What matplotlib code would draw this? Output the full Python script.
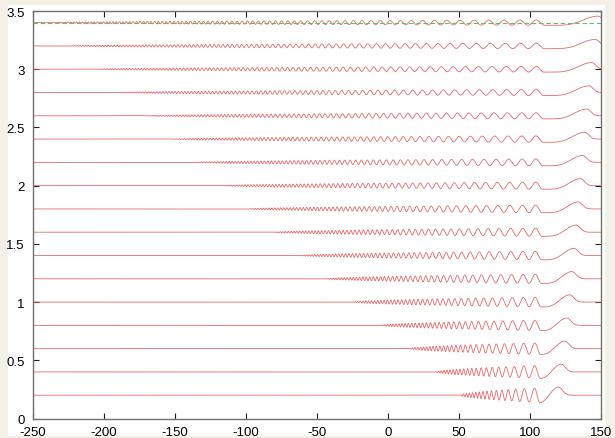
"""
Stacked wave-packet profiles (gnuplot look-alike)
"""

import numpy as np
import matplotlib.pyplot as plt
from matplotlib.patches import Rectangle
from matplotlib.ticker import FuncFormatter, MultipleLocator

# baseline of each profile
offsets = [0.2, 0.4, 0.6, 0.8, 1.0, 1.2, 1.4, 1.6, 1.8, 2.0,
           2.2, 2.4, 2.6, 2.8, 3.0, 3.2, 3.4]
# x where the ripples first become visible (left front)
ripple_start = [51, 34, 15, -5, -25, -44, -62, -80, -99, -117,
                -135, -153, -171, -190, -208, -228, -246]
# x of the trough after the last crest
trough_x = [107.0, 107.2, 107.4, 107.6, 107.8, 108.0, 108.2, 108.4, 108.6, 108.8,
            109.0, 109.2, 109.4, 109.6, 109.8, 110.0, 110.2]
# x and height of the bump on the right
bump_x = [120, 122, 124.5, 126, 128, 129.5, 131, 132.5, 134, 135.5,
          137, 138.5, 140, 141.5, 143.5, 146, 148]
bump_h = [0.070, 0.067, 0.064, 0.063, 0.062, 0.062, 0.061, 0.061, 0.060, 0.060,
          0.059, 0.058, 0.058, 0.057, 0.057, 0.056, 0.056]
# ripple amplitude next to the trough
osc_amp = [0.063, 0.055, 0.050, 0.045, 0.042, 0.040, 0.037, 0.035, 0.033, 0.031,
           0.030, 0.028, 0.027, 0.026, 0.025, 0.024, 0.023]
# wavenumber of the last (longest) ripple
last_wavenum = [0.80, 0.78, 0.77, 0.75, 0.74, 0.72, 0.70, 0.69, 0.67, 0.66,
                0.64, 0.62, 0.61, 0.59, 0.58, 0.56, 0.54]
# steepness of the rise from trough to bump
ramp_pow = [1.0, 1.2, 1.4, 1.6, 1.8, 2.0, 2.1, 2.2, 2.3, 2.4,
            2.5, 2.5, 2.6, 2.6, 2.7, 2.7, 2.8]

Q_MAX = 3.5   # wavenumber at the front
CHIRP = 1.8
BUMP_W = 4.0


def profile(x, x_s, x_t, x_b, h, a, q0, p):
    y = np.zeros_like(x)
    L = x_t - x_s
    u = np.clip((x_t - x) / L, 0, 1)
    phase = L * (q0 * u + (Q_MAX - q0) * u ** (CHIRP + 1) / (CHIRP + 1))
    osc = -a * (1 - u) ** 0.55 * np.cos(phase)
    left = x <= x_t
    y[left] = osc[left]
    mid = (x > x_t) & (x <= x_b)
    v = (x[mid] - x_t) / (x_b - x_t)
    y[mid] = -a + (a + h) * ((1 - np.cos(np.pi * v)) / 2) ** p
    right = x > x_b
    y[right] = h * np.exp(-((x[right] - x_b) / BUMP_W) ** 2)
    return y


plt.rcParams['font.family'] = ['Liberation Sans', 'DejaVu Sans']
plt.rcParams['font.size'] = 9.5

figure = plt.figure(figsize=(6.15, 4.39), dpi=100, facecolor='#f4f0e8')
figure.patches.append(Rectangle((8 / 615, 2 / 439), 597 / 615, 431 / 439,
                                transform=figure.transFigure, facecolor='white',
                                edgecolor='none', zorder=-10))

ax = figure.add_axes([33 / 615, 19.5 / 439, 568 / 615, 407.5 / 439])
ax.set_facecolor('white')

x = np.linspace(-250, 150, 16001)
for i in range(len(offsets)):
    y = profile(x, ripple_start[i], trough_x[i], bump_x[i], bump_h[i],
                osc_amp[i], last_wavenum[i], ramp_pow[i])
    ax.plot(x, offsets[i] + y, color='#e66a6c', linewidth=0.6, zorder=2)

ax.axhline(offsets[-1], color='#66bb66', linewidth=0.8,
           linestyle=(0, (4, 2.5)), zorder=3)

ax.set_xlim(-250, 150)
ax.set_ylim(0, 3.5)
ax.xaxis.set_major_locator(MultipleLocator(50))
ax.yaxis.set_major_locator(MultipleLocator(0.5))
fmt = FuncFormatter(lambda v, pos: '%g' % v)
ax.xaxis.set_major_formatter(fmt)
ax.yaxis.set_major_formatter(fmt)
ax.tick_params(direction='in', length=4, width=0.8, color='#202020',
               top=True, right=True, labelsize=9.5)
ax.tick_params(axis='x', pad=5.5)
ax.tick_params(axis='y', pad=6)
for sp in ax.spines.values():
    sp.set_color('#707070')
    sp.set_linewidth(1.0)

figure.savefig('out.png', dpi=100, facecolor=figure.get_facecolor())
